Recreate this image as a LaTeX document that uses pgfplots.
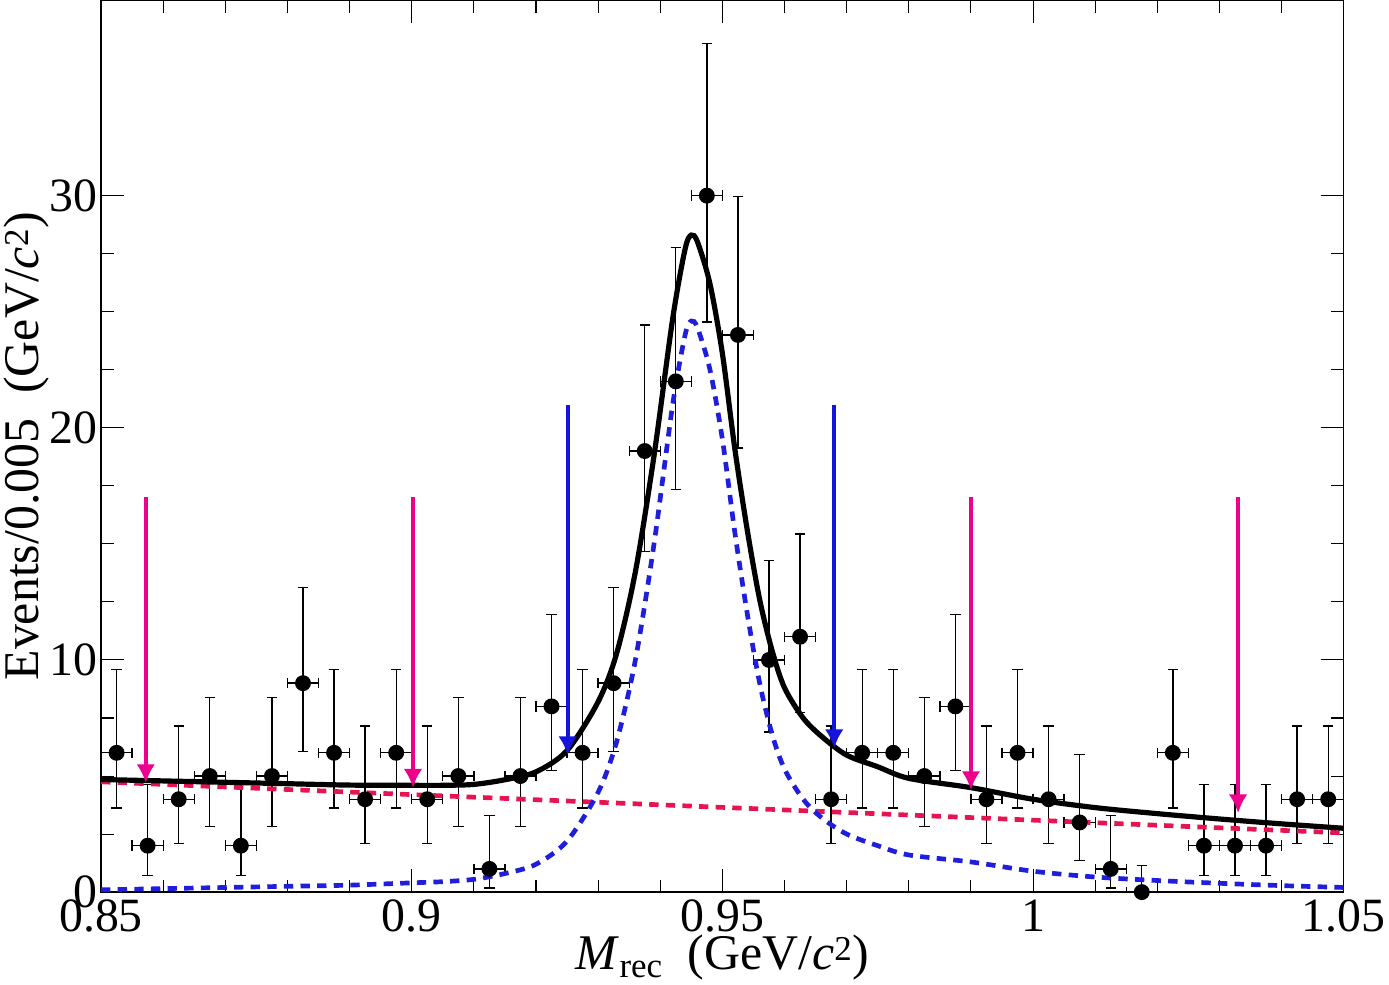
\documentclass[border=0pt]{standalone}
\usepackage{fontspec}
\setmainfont{Liberation Serif}
\usepackage{pgfplots}
\pgfplotsset{compat=1.18}
\usepackage{pgfplotstable}
\usetikzlibrary{arrows.meta}
\pgfplotstableread{
x y em ep
0.8525 6 2.38 3.58
0.8575 2 1.29 2.64
0.8625 4 1.91 3.16
0.8675 5 2.16 3.38
0.8725 2 1.29 2.64
0.8775 5 2.16 3.38
0.8825 9 2.94 4.11
0.8875 6 2.38 3.58
0.8925 4 1.91 3.16
0.8975 6 2.38 3.58
0.9025 4 1.91 3.16
0.9075 5 2.16 3.38
0.9125 1 0.83 2.30
0.9175 5 2.16 3.38
0.9225 8 2.77 3.95
0.9275 6 2.38 3.58
0.9325 9 2.94 4.11
0.9375 19 4.33 5.43
0.9425 22 4.66 5.76
0.9475 30 5.45 6.54
0.9525 24 4.87 5.97
0.9575 10 3.11 4.27
0.9625 11 3.27 4.42
0.9675 4 1.91 3.16
0.9725 6 2.38 3.58
0.9775 6 2.38 3.58
0.9825 5 2.16 3.38
0.9875 8 2.77 3.95
0.9925 4 1.91 3.16
0.9975 6 2.38 3.58
1.0025 4 1.91 3.16
1.0075 3 1.63 2.92
1.0125 1 0.83 2.30
1.0175 0 0 1.15
1.0225 6 2.38 3.58
1.0275 2 1.29 2.64
1.0325 2 1.29 2.64
1.0375 2 1.29 2.64
1.0425 4 1.91 3.16
1.0475 4 1.91 3.16
}\data
\begin{document}
\begin{tikzpicture}
\begin{axis}[
  scale only axis, width=1196pt, height=858pt,
  xmin=0.85, xmax=1.05, ymin=0, ymax=38.4,
  xtick={0.85,0.9,0.95,1,1.05},
  xticklabels={0.85,0.9,0.95,1,1.05},
  ytick={0,10,20,30},
  minor x tick num=4, minor y tick num=3,
  tick align=inside, tick pos=both,
  major tick length=22pt, minor tick length=12pt,
  every tick/.style={black, line width=1pt},
  axis line style={line width=1.2pt},
  /pgf/number format/assume math mode=true,
  ticklabel style={font=\fontsize{46}{50}\selectfont},
  xticklabel style={yshift=-4pt},
  label style={font=\fontsize{48}{54}\selectfont},
  xlabel={\textit{M}\textsubscript{rec}\ \ (GeV/\textit{c}\textsuperscript{2})},
  ylabel={Events/0.005\ \ (GeV/\textit{c}\textsuperscript{2})},
  ylabel style={yshift=-6pt},
  xlabel style={yshift=4pt},
  clip=true,
]
\addplot[black, only marks, mark=*, mark size=7pt, line width=1.3pt,
  error bars/.cd, x dir=both, x fixed=0.0025, y dir=both, y explicit,
  error bar style={line width=1.3pt}, error mark options={rotate=90, mark size=5pt, line width=1.3pt}]
  table[x=x, y=y, y error plus=ep, y error minus=em] {\data};
\addplot[color={rgb,255:red,230;green,20;blue,80}, line width=4.5pt, dash pattern=on 9pt off 7pt] coordinates {
(0.85,4.75)(0.9,4.2)(0.95,3.65)(1.0,3.1)(1.05,2.55)};
\addplot[color={rgb,255:red,30;green,30;blue,220}, line width=4.5pt, dash pattern=on 9pt off 7pt, smooth] coordinates {
(0.85,0.1)(0.86,0.15)(0.87,0.2)(0.88,0.25)(0.89,0.3)(0.90,0.4)(0.905,0.45)(0.91,0.55)(0.915,0.8)(0.92,1.2)(0.925,2.2)(0.93,4.3)(0.933,6.5)(0.936,10)(0.939,15)(0.942,21)(0.944,24)(0.945,24.6)(0.946,24.3)(0.948,22.5)(0.95,19.5)(0.952,15.5)(0.954,12)(0.956,9)(0.958,6.8)(0.96,5.3)(0.963,4.0)(0.966,3.2)(0.97,2.5)(0.975,2.0)(0.98,1.6)(0.99,1.3)(1.0,0.9)(1.01,0.65)(1.02,0.5)(1.03,0.38)(1.04,0.28)(1.05,0.2)};
\addplot[black, line width=5pt, smooth] coordinates {
(0.85,4.85)(0.86,4.79)(0.87,4.73)(0.88,4.67)(0.89,4.61)(0.90,4.6)(0.905,4.6)(0.91,4.64)(0.915,4.84)(0.92,5.18)(0.925,6.1)(0.93,8.2)(0.933,10.3)(0.936,13.8)(0.939,18.8)(0.942,24.7)(0.944,27.7)(0.945,28.3)(0.946,28.0)(0.948,26.2)(0.95,23.2)(0.952,19.1)(0.954,15.6)(0.956,12.6)(0.958,10.4)(0.96,8.8)(0.963,7.5)(0.966,6.7)(0.97,5.9)(0.975,5.4)(0.98,4.9)(0.99,4.5)(1.0,4.0)(1.01,3.64)(1.02,3.38)(1.03,3.15)(1.04,2.94)(1.05,2.75)};
\addplot[magenta, line width=4pt, -{Latex[length=18pt,width=18pt]}] coordinates {(0.8572,17)(0.8572,4.7)};
\addplot[magenta, line width=4pt, -{Latex[length=18pt,width=18pt]}] coordinates {(0.9002,17)(0.9002,4.5)};
\addplot[magenta, line width=4pt, -{Latex[length=18pt,width=18pt]}] coordinates {(0.990,17)(0.990,4.4)};
\addplot[magenta, line width=4pt, -{Latex[length=18pt,width=18pt]}] coordinates {(1.033,17)(1.033,3.4)};
\addplot[color={rgb,255:red,20;green,20;blue,220}, line width=4pt, -{Latex[length=18pt,width=18pt]}] coordinates {(0.9251,21)(0.9251,5.9)};
\addplot[color={rgb,255:red,20;green,20;blue,220}, line width=4pt, -{Latex[length=18pt,width=18pt]}] coordinates {(0.968,21)(0.968,6.2)};
\end{axis}
\end{tikzpicture}
\end{document}
